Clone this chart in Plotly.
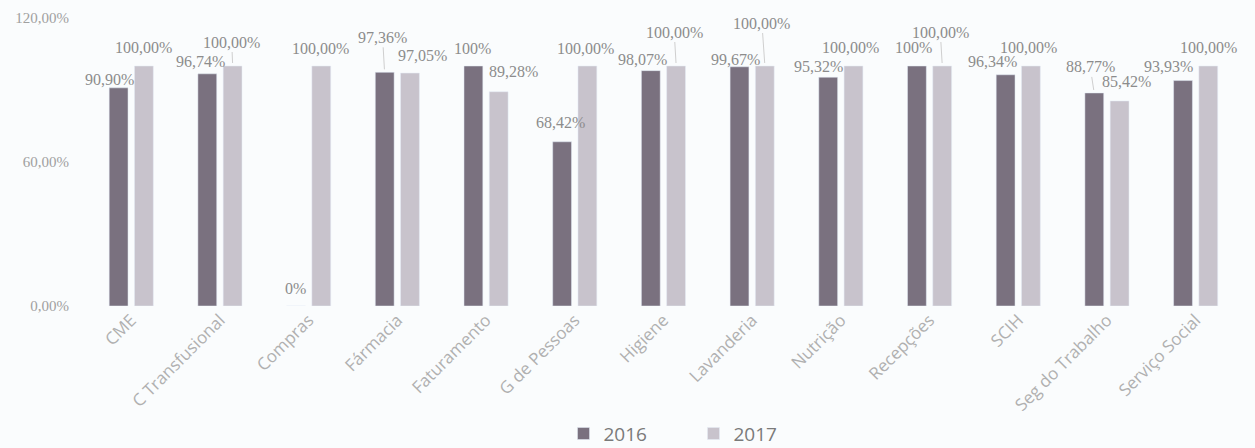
import plotly.graph_objects as go

categories = ["CME", "C Transfusional", "Compras", "Fármacia", "Faturamento", "G de Pessoas",
              "Higiene", "Lavanderia", "Nutrição", "Recepções", "SCIH", "Seg do Trabalho", "Serviço Social"]
values_2016 = [90.90, 96.74, 0, 97.36, 100, 68.42, 98.07, 99.67, 95.32, 100, 96.34, 88.77, 93.93]
values_2017 = [100, 100, 100, 97.05, 89.28, 100, 100, 100, 100, 100, 100, 85.42, 100]
labels_2016 = ["90,90%", "96,74%", "0%", "97,36%", "100%", "68,42%", "98,07%", "99,67%",
               "95,32%", "100%", "96,34%", "88,77%", "93,93%"]
labels_2017 = ["100,00%", "100,00%", "100,00%", "97,05%", "89,28%", "100,00%", "100,00%",
               "100,00%", "100,00%", "100,00%", "100,00%", "85,42%", "100,00%"]
ytick_vals = [0, 60, 120]
ytick_text = ["0,00%", "60,00%", "120,00%"]

# label placement (pixel offsets of label centre from bar top; leader flag)
off_2016 = [(-9, 8, 0), (-7, 12, 0), (0, 18, 0), (-2, 35, 1), (-1, 18, 0), (-2, 19, 0),
            (-8, 11, 0), (-4, 7, 0), (-10, 11, 0), (-3, 19, 0), (-13, 13, 0), (-4, 26, 1), (-14, 14, 0)]
off_2017 = [(-1, 19, 0), (-1, 24, 1), (-1, 18, 0), (12, 18, 0), (15, 20, 0), (-2, 18, 0),
            (-2, 34, 1), (-3, 43, 1), (-3, 19, 0), (-2, 34, 1), (-3, 19, 0), (7, 19, 0), (0, 19, 0)]

C16 = "#7a717f"
C17 = "#c8c3cc"
BAR_OFF = 12.75
SERIF = "Liberation Serif, Times New Roman, serif"

fig = go.Figure()
fig.add_trace(go.Bar(name="2016", x=categories, y=values_2016, marker_color=C16))
fig.add_trace(go.Bar(name="2017", x=categories, y=values_2017, marker_color=C17))

annotations = []
for vals, labs, offs, sgn in [(values_2016, labels_2016, off_2016, -1), (values_2017, labels_2017, off_2017, 1)]:
    for c, v, t, (dx, dy, lead) in zip(categories, vals, labs, offs):
        f = dict(family=SERIF, size=16, color="#8c8c8c")
        if lead:
            annotations.append(dict(x=c, y=v, xref="x", yref="y", text=t, showarrow=True,
                                    arrowhead=0, arrowwidth=1, arrowcolor="#cfcfcf",
                                    ax=dx, ay=-dy, standoff=3, xshift=sgn * BAR_OFF,
                                    font=f))
        else:
            annotations.append(dict(x=c, y=v, xref="x", yref="y", text=t, showarrow=False,
                                    xanchor="center", yanchor="middle",
                                    xshift=sgn * BAR_OFF + dx, yshift=dy, font=f))

fig.update_layout(
    width=1255, height=448,
    margin=dict(l=83, r=15, t=18, b=142, autoexpand=False),
    paper_bgcolor="#fafcfd", plot_bgcolor="#fafcfd",
    barmode="group", bargap=0.43, bargroupgap=0.255,
    annotations=annotations,
    showlegend=True,
    legend=dict(orientation="h", xref="container", x=0.449, xanchor="left",
                yref="container", y=0.032, yanchor="middle",
                font=dict(family="Open Sans", size=19, color="#7a7a7a"),
                entrywidth=85, entrywidthmode="pixels", bgcolor="rgba(0,0,0,0)"),
)
fig.update_xaxes(tickangle=-45, tickfont=dict(family="Open Sans", size=17, color="#b0b0b0"),
                 showgrid=False, showline=False, ticks="", automargin=False)
fig.update_yaxes(range=[0, 120], tickvals=ytick_vals, ticktext=ytick_text,
                 tickfont=dict(family=SERIF, size=15, color="#a0a0a0"),
                 showgrid=False, zeroline=False, showline=False, ticks="", ticklabelstandoff=13,
                 automargin=False)

fig.write_html("out.html", config={"displayModeBar": False},
               post_script="document.body.style.margin='0';document.body.style.overflow='hidden';")
